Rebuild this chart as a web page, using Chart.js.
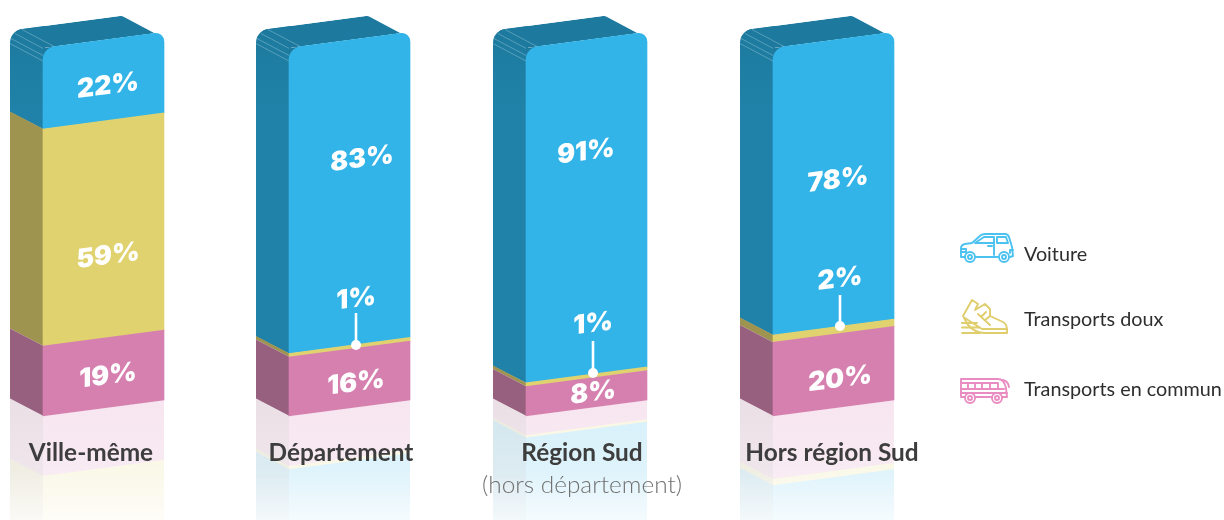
<!DOCTYPE html>
<html lang="fr">
<head>
<meta charset="utf-8">
<title>Modes de transport</title>
<style>html,body{margin:0;padding:0;background:#fff}canvas{display:block}</style>
<script src="https://cdn.jsdelivr.net/npm/chart.js@4/dist/chart.umd.js"></script>
</head>
<body>
<canvas id="c" width="1224" height="520"></canvas>
<script>
// ---- data ----
const categories = ['Ville-même', 'Département', 'Région Sud', 'Hors région Sud'];
const subLabels = ['', '', '(hors département)', ''];
const transportsEnCommun = [19, 16, 8, 20];
const transportsDoux = [59, 1, 1, 2];
const voiture = [22, 83, 91, 78];

// ---- styles & layout ----
const frontColors = { commun: '#D680B0', doux: '#E0D26F', voiture: '#33B4E8' };
const sideColors = { commun: '#98607F', doux: '#9E9450', voiture: '#2082A8' };
const topColor = '#1D7A9E';
const iconColors = { voiture: '#4CC2F0', doux: '#E0CD6B', commun: '#E88CC2' };
const barNudge = [0, 2.67, -3.67, 0];
const labelCenters = [91, 341, 582, 832];
const reflectScale = [3.16, 3.13, 2.4, 3.15];
const K = 0.132, DX = 33, DY = 17.5;
const FONT = 'Lato, "Open Sans", sans-serif';
const NUM_FONT = 'Inter, Lato, sans-serif';

// anchors of the value labels [x, y] by series
const anchorsCommun = [[108, 376], [356, 383], [593, 393], [840, 379]];
const anchorsDoux = [[108, 256], [356, 299], [593, 324], [840, 279]];
const anchorsVoiture = [[108, 86], [362, 159], [586, 152], [838, 180]];
const connectors = [null, [313, 345], [341, 373], [295, 326]];

function roundedPoly(ctx, pts) { // pts: [x,y,r]
  const n = pts.length;
  const s = pts[n - 1], f = pts[0];
  ctx.beginPath();
  ctx.moveTo((s[0] + f[0]) / 2, (s[1] + f[1]) / 2);
  for (let i = 0; i < n; i++) {
    const p = pts[i], q = pts[(i + 1) % n];
    ctx.arcTo(p[0], p[1], q[0], q[1], p[2] || 0.01);
  }
  ctx.closePath();
}

// Each stacked bar is drawn by Chart.js, sheared, with its side face attached.
const baseDraw = Chart.BarElement.prototype.draw;
Chart.BarElement.prototype.draw = function (ctx) {
  const { x, y, base, width } = this.getProps(['x', 'y', 'base', 'width'], true);
  const [di, ci] = this.faceIndex;
  const key = ['commun', 'doux', 'voiture'][di];
  const L = x - width / 2;
  ctx.save();
  ctx.translate(barNudge[ci], 0);
  ctx.fillStyle = sideColors[key];
  if (key === 'voiture') {
    const tr = L + width - 9;
    const try_ = y - K * (width - 9);
    // silhouette of side + top faces
    ctx.save();
    roundedPoly(ctx, [
      [L + 1, base + 0.5], [L - DX, base - DY + 0.5], [L - DX, y - DY, 14],
      [tr - DX, try_ - DY, 7], [tr, try_], [L + 1, y]
    ]);
    ctx.clip();
    const sg = ctx.createLinearGradient(0, y - DY, 0, y + 60);
    sg.addColorStop(0, topColor);
    sg.addColorStop(1, sideColors.voiture);
    ctx.fillStyle = sg;
    ctx.fillRect(L - DX - 2, y - DY - 30, DX + 4, base - y + DY + 40);
    ctx.fillStyle = topColor;
    ctx.beginPath();
    ctx.moveTo(L, y); ctx.lineTo(L - DX, y - DY); ctx.lineTo(tr - DX, try_ - DY); ctx.lineTo(tr, try_);
    ctx.closePath(); ctx.fill();
    // thin sheet lines on the rounded edge
    ctx.strokeStyle = 'rgba(190,225,238,0.45)';
    ctx.lineWidth = 0.8;
    [[-33, 13], [-32, 8], [-28, 3], [-21, -1]].forEach(o => {
      ctx.beginPath();
      ctx.moveTo(L + o[0], y + o[1] - DY);
      ctx.lineTo(L + o[0] + DX, y + o[1]);
      ctx.stroke();
    });
    [0, 2].forEach(o => {
      ctx.beginPath();
      ctx.moveTo(tr - DX + 2 + o, try_ - DY + 1 - o * 0.2);
      ctx.lineTo(tr + o, try_ - o * 0.2);
      ctx.stroke();
    });
    ctx.restore();
    // dark backing behind the front face's rounded top-left corner
    ctx.fillStyle = topColor;
    ctx.beginPath();
    ctx.moveTo(L, y); ctx.lineTo(L + 14, y - K * 14); ctx.lineTo(L + 14, y + 14); ctx.lineTo(L, y + 14);
    ctx.closePath(); ctx.fill();
  } else {
    ctx.beginPath();
    ctx.moveTo(L + 0.5, y);
    ctx.lineTo(L + 0.5, base);
    ctx.lineTo(L - DX, base - DY);
    ctx.lineTo(L - DX, y - DY);
    ctx.closePath();
    ctx.fill();
  }
  ctx.transform(1, -K, 0, 1, 0, K * L);
  baseDraw.call(this, ctx);
  ctx.restore();
};

function rgba(hex, a) {
  const n = parseInt(hex.slice(1), 16);
  return `rgba(${n >> 16},${(n >> 8) & 255},${n & 255},${a})`;
}
function fade(ctx, hex) {
  const g = ctx.createLinearGradient(0, 400, 0, 520);
  g.addColorStop(0, rgba(hex, 0.20));
  g.addColorStop(0.58, rgba(hex, 0.16));
  g.addColorStop(1, rgba(hex, 0.05));
  return g;
}

function stroke(ctx, d) { ctx.stroke(new Path2D(d)); }
function wheel(ctx, x, y, r) {
  ctx.beginPath(); ctx.arc(x, y, r, 0, 7); ctx.fillStyle = '#fff'; ctx.fill(); ctx.stroke();
  ctx.beginPath(); ctx.arc(x, y, r * 0.4, 0, 7); ctx.stroke();
}
const icons = {
  voiture(ctx) {
    stroke(ctx, 'M964 257 L961 257 L961 248 Q961 245 965 244 L972 243 L981 235 Q983 234 986 234 L1005 234 Q1008 234 1009 237 L1012 247 L1013 256 L1010 257 M976 257 L998 257');
    stroke(ctx, 'M975 243 L984 237 L994 237 L994 243 Z M997 237 L1006 237 L1008 243 L997 243 Z M994 243 L994 255 M988 246 L992 246 M961 249 L966 249 L966 252 L961 252 M1013 250 L1010 250 L1010 253');
    wheel(ctx, 970, 257, 5); wheel(ctx, 1004, 257, 5);
  },
  doux(ctx) {
    stroke(ctx, 'M963 316 L972 300 L978 304 L975 310 L985 304 L990 309 L990 316 L1003 322 Q1007 324 1007 330 L1007 333 L985 333 Q975 333 968 325 Z');
    stroke(ctx, 'M965 318 L982 329 L1007 329 M982 316 L986 312 M985 320 L990 316 M978 314 L990 325 M962 323 L977 323 M962 327.5 L980 327.5 M962 333 L980 333');
  },
  commun(ctx) {
    stroke(ctx, 'M965 397 L961 397 L961 379 L998 379 Q1004 379 1006 388 L1007 397 L1002 397 M992 397 L975 397');
    stroke(ctx, 'M961 383 L998 383 M961 389 L1004 389 M961 393 L1007 393 M968 383 L968 389 M975 383 L975 389 M982 383 L982 389 M990 383 L990 389 M998 383 L998 389 M1003 380 Q1008 381 1009 387');
    wheel(ctx, 970, 398, 5); wheel(ctx, 997, 398, 5);
  }
};

const scenery = {
  id: 'scenery',
  beforeDatasetsDraw(chart) {
    const ctx = chart.ctx, yS = chart.scales.y;
    chart.data.datasets.forEach((_, di) => {
      chart.getDatasetMeta(di).data.forEach((el, ci) => { el.faceIndex = [di, ci]; });
    });
    const series = [['commun', transportsEnCommun], ['doux', transportsDoux], ['voiture', voiture]];
    categories.forEach((_, i) => {
      const el = chart.getDatasetMeta(0).data[i];
      const w = el.width, L = el.x - w / 2 + barNudge[i];
      let y0 = yS.getPixelForValue(0);
      series.forEach(([key, vals]) => {
        const y1 = y0 + vals[i] * reflectScale[i];
        ctx.fillStyle = fade(ctx, frontColors[key]);
        ctx.beginPath();
        ctx.moveTo(L, y0); ctx.lineTo(L + w, y0 - K * w); ctx.lineTo(L + w, y1 - K * w); ctx.lineTo(L, y1);
        ctx.closePath(); ctx.fill();
        ctx.fillStyle = fade(ctx, sideColors[key]);
        ctx.beginPath();
        ctx.moveTo(L, y0); ctx.lineTo(L - DX, y0 - DY); ctx.lineTo(L - DX, y1 - DY); ctx.lineTo(L, y1);
        ctx.closePath(); ctx.fill();
        y0 = y1;
      });
    });
  },
  afterDatasetsDraw(chart) {
    const ctx = chart.ctx;
    ctx.save();
    // connectors
    connectors.forEach((c, i) => {
      if (!c) return;
      const x = anchorsDoux[i][0];
      ctx.strokeStyle = '#fff'; ctx.lineWidth = 2.6;
      ctx.beginPath(); ctx.moveTo(x, c[0]); ctx.lineTo(x, c[1]); ctx.stroke();
      ctx.fillStyle = '#fff';
      ctx.beginPath(); ctx.arc(x, c[1], 5, 0, 7); ctx.fill();
    });
    // value labels on the sheared faces
    ctx.fillStyle = '#fff';
    ctx.font = `900 26.5px ${NUM_FONT}`;
    ctx.textAlign = 'center'; ctx.textBaseline = 'middle';
    [[transportsEnCommun, anchorsCommun], [transportsDoux, anchorsDoux], [voiture, anchorsVoiture]].forEach(([vals, anchors]) => {
      vals.forEach((v, i) => {
        const [x, y] = anchors[i];
        ctx.save();
        ctx.translate(x, y);
        ctx.transform(1, -K, 0, 1, 0, 0);
        ctx.fillText(v + '%', 0, 0);
        ctx.restore();
      });
    });
    // category labels
    categories.forEach((t, i) => {
      ctx.fillStyle = '#3D3D3D';
      ctx.font = `700 24.4px ${FONT}`;
      ctx.fillText(chart.data.labels[i], labelCenters[i], 453);
      if (subLabels[i]) {
        ctx.fillStyle = '#707070';
        ctx.font = `300 24.4px ${FONT}`;
        ctx.fillText(subLabels[i], labelCenters[i], 485);
      }
    });
    // legend
    const rows = [['voiture', 2, 255], ['doux', 1, 320], ['commun', 0, 390]];
    rows.forEach(([key, di, y]) => {
      ctx.strokeStyle = iconColors[key]; ctx.lineWidth = 1.9;
      ctx.lineJoin = 'round'; ctx.lineCap = 'round';
      icons[key](ctx);
      ctx.fillStyle = '#2E2E2E';
      ctx.font = `400 19.8px ${FONT}`;
      ctx.textAlign = 'left';
      ctx.fillText(chart.data.datasets[di].label, 1024, y);
      ctx.textAlign = 'center';
    });
    ctx.restore();
  }
};

new Chart(document.getElementById('c'), {
  type: 'bar',
  data: {
    labels: categories,
    datasets: [
      { label: 'Transports en commun', data: transportsEnCommun, backgroundColor: frontColors.commun },
      { label: 'Transports doux', data: transportsDoux, backgroundColor: frontColors.doux },
      { label: 'Voiture', data: voiture, backgroundColor: frontColors.voiture,
        borderRadius: { topLeft: 12, topRight: 10, bottomLeft: 0, bottomRight: 0 } }
    ]
  },
  options: {
    responsive: false,
    animation: false,
    clip: false,
    layout: { padding: { left: 103.5, right: 390.5, top: 48, bottom: 104 } },
    barThickness: 121,
    plugins: { legend: { display: false }, title: { display: false }, tooltip: { enabled: false } },
    scales: {
      x: { stacked: true, display: false, offset: false, grid: { display: false } },
      y: { stacked: true, display: false, min: 0, max: 100, grid: { display: false } }
    }
  },
  plugins: [scenery]
});
</script>
</body>
</html>
